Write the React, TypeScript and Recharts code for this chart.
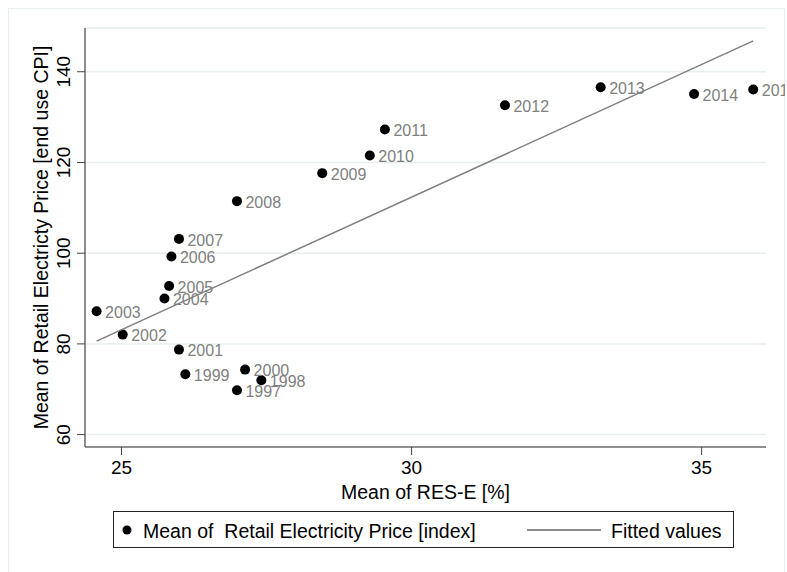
import { CartesianGrid, Label, Scatter, ScatterChart, XAxis, YAxis } from "recharts";

const years = [
  1997, 1998, 1999, 2000, 2001, 2002, 2003, 2004, 2005, 2006, 2007, 2008, 2009,
  2010, 2011, 2012, 2013, 2014, 2015,
];
const resShare = [
  26.99, 27.41, 26.1, 27.13, 25.99, 25.02, 24.57, 25.74, 25.82, 25.86, 25.99,
  26.99, 28.46, 29.28, 29.54, 31.61, 33.26, 34.87, 35.89,
];
const retailPrice = [
  69.77, 71.97, 73.3, 74.33, 78.74, 82.05, 87.2, 90.0, 92.77, 99.25, 103.15,
  111.47, 117.64, 121.54, 127.28, 132.6, 136.56, 135.08, 136.1,
];
const fittedX = [24.57, 35.89];
const fittedY = [80.6, 146.8];
const xTicks = [25, 30, 35];
const yTicks = [60, 80, 100, 120, 140];

const points = years.map((year, i) => ({ year, x: resShare[i], y: retailPrice[i] }));
const fitted = fittedX.map((x, i) => ({ x, y: fittedY[i] }));

const font = "'Liberation Sans', Arial, Helvetica, sans-serif";
const axisColor = "#707070";
const gridColor = "#e6eef0";

function YearDot(props: any) {
  const { cx, cy, payload } = props;
  return (
    <g>
      <circle cx={cx} cy={cy} r={5} fill="#000" />
      <text x={cx + 8.5} y={cy} dy="0.43em" fontSize={16} fill="#808080">
        {payload.year}
      </text>
    </g>
  );
}

function YTick(props: any) {
  const { x, y, payload } = props;
  return (
    <text
      x={x}
      y={y}
      transform={`rotate(-90, ${x}, ${y})`}
      textAnchor="middle"
      fontSize={19}
      fill="#000"
    >
      {payload.value}
    </text>
  );
}

function YTitle(props: any) {
  const { viewBox } = props;
  const x = viewBox.x + 48;
  const y = viewBox.y + viewBox.height / 2;
  return (
    <text x={x} y={y} transform={`rotate(-90, ${x}, ${y})`} textAnchor="middle" fontSize={19.5} fill="#000">
      Mean of Retail Electricty Price [end use CPI]
    </text>
  );
}

function XTitle(props: any) {
  const { viewBox } = props;
  return (
    <text x={viewBox.x + viewBox.width / 2} y={viewBox.y + 52} textAnchor="middle" fontSize={19.5} fill="#000">
      Mean of RES-E [%]
    </text>
  );
}

export default function App() {
  return (
    <div
      style={{
        position: "absolute",
        left: 0,
        top: 0,
        width: 787,
        height: 572,
        overflow: "hidden",
        background: "#fff",
        fontFamily: font,
      }}
    >
      <div
        style={{
          position: "absolute",
          left: 8,
          top: 8,
          width: 777,
          height: 600,
          boxSizing: "border-box",
          border: `1px solid ${gridColor}`,
        }}
      />
      <div style={{ position: "absolute", left: 0, top: 0, width: 785, height: 572, overflow: "hidden" }}>
        <ScatterChart
          width={785}
          height={572}
          margin={{ top: 28, right: 19, bottom: 0, left: 0 }}
          style={{ fontFamily: font }}
        >
          <CartesianGrid horizontal vertical={false} stroke={gridColor} strokeWidth={1.5} />
          <XAxis
            type="number"
            dataKey="x"
            domain={[24.37, 36.11]}
            ticks={xTicks}
            height={125}
            tickSize={8}
            tickMargin={6}
            tick={{ fontSize: 19, fill: "#000" }}
            tickLine={{ stroke: "#444" }}
            axisLine={{ stroke: axisColor, strokeWidth: 1.6 }}
          >
            <Label content={<XTitle />} />
          </XAxis>
          <YAxis
            type="number"
            dataKey="y"
            domain={[57.27, 149.64]}
            ticks={yTicks}
            width={85}
            tickSize={8}
            tickMargin={7}
            tick={<YTick />}
            tickLine={{ stroke: "#444" }}
            axisLine={{ stroke: axisColor, strokeWidth: 1.6 }}
          >
            <Label content={<YTitle />} />
          </YAxis>
          <Scatter
            name="Mean of  Retail Electricity Price [index]"
            data={points}
            shape={<YearDot />}
            isAnimationActive={false}
          />
          <Scatter
            name="Fitted values"
            data={fitted}
            line={{ stroke: "#7f7f7f", strokeWidth: 1.5 }}
            shape={() => <g />}
            isAnimationActive={false}
          />
        </ScatterChart>
      </div>
      <div
        style={{
          position: "absolute",
          left: 112.5,
          top: 510.5,
          width: 621,
          height: 37,
          boxSizing: "border-box",
          border: "1px solid #222",
        }}
      >
        <svg width={619} height={35} style={{ display: "block", fontFamily: font }}>
          <circle cx={13} cy={18} r={4.5} fill="#000" />
          <text x={29} y={25.5} fontSize={19.5} fill="#000" style={{ whiteSpace: "pre" }}>
            {"Mean of  Retail Electricity Price [index]"}
          </text>
          <line x1={413} x2={487} y1={18} y2={18} stroke="#8a8a8a" strokeWidth={2} />
          <text x={497} y={25.5} fontSize={19.5} fill="#000">
            Fitted values
          </text>
        </svg>
      </div>
    </div>
  );
}
